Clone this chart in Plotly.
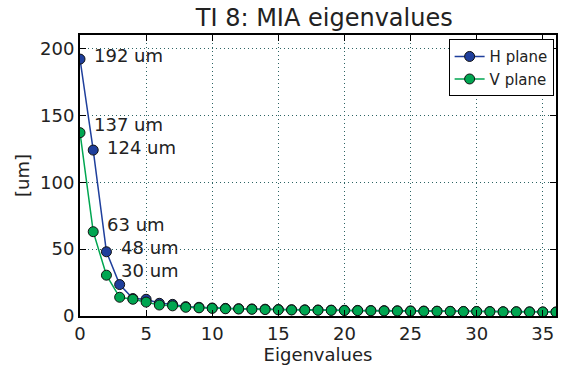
import plotly.graph_objects as go

eig_index = list(range(0, 41))
h_plane = [192, 124, 48, 23.5, 13, 12.5, 9.5, 8.7, 7.0, 6.5, 6.0, 5.7, 5.5, 5.3, 5.1, 4.9,
           4.7, 4.6, 4.5, 4.4, 4.3, 4.2, 4.1, 4.0, 3.9, 3.8, 3.7, 3.6, 3.5, 3.4, 3.4,
           3.3, 3.2, 3.2, 3.1, 3.0, 3.0, 2.9, 2.9, 2.8, 2.8]
v_plane = [137, 63, 30.5, 14, 12.5, 10.4, 8.2, 7.6, 6.5, 6.1, 5.7, 5.4, 5.2, 5.0, 4.8, 4.6,
           4.5, 4.4, 4.3, 4.2, 4.1, 4.0, 3.9, 3.8, 3.7, 3.6, 3.5, 3.5, 3.4, 3.3, 3.3,
           3.2, 3.1, 3.1, 3.0, 3.0, 2.9, 2.9, 2.8, 2.8, 2.7]
x_ticks = [0, 5, 10, 15, 20, 25, 30, 35]
y_ticks = [0, 50, 100, 150, 200]

H_COLOR = "#1f3f9c"
V_COLOR = "#00a651"
FONT = "DejaVu Sans"
TXT = "#222222"

fig = go.Figure()
fig.add_trace(go.Scatter(x=eig_index, y=h_plane, mode="lines+markers", name="H plane",
                         line=dict(color=H_COLOR, width=1.5),
                         marker=dict(color=H_COLOR, size=10, line=dict(color="#111111", width=1))))
fig.add_trace(go.Scatter(x=eig_index, y=v_plane, mode="lines+markers", name="V plane",
                         line=dict(color=V_COLOR, width=1.5),
                         marker=dict(color=V_COLOR, size=10, line=dict(color="#111111", width=1))))

labels = [(0, h_plane, 2.8), (0, v_plane, 5.8), (1, h_plane, 1.6),
          (1, v_plane, 5.2), (2, h_plane, 3.4), (2, v_plane, 3.6)]
for i, series, dy in labels:
    val = series[i]
    fig.add_annotation(x=i + 1, y=val + dy, text=f"{int(round(val))} um", showarrow=False,
                       xanchor="left", yanchor="middle", borderpad=0,
                       font=dict(family=FONT, size=18, color=TXT))

axis_common = dict(showline=True, linecolor="black", linewidth=2, mirror="ticks",
                   ticks="inside", ticklen=6, tickcolor="black", tickwidth=1,
                   showgrid=True, gridcolor="#2d6464", griddash="1px,3px", gridwidth=1,
                   zeroline=False, tickfont=dict(family=FONT, size=18, color=TXT))

fig.update_xaxes(range=[0, 36], tickvals=x_ticks,
                 title=dict(text="Eigenvalues", font=dict(family=FONT, size=18, color=TXT), standoff=2),
                 **axis_common)
fig.update_yaxes(range=[0, 210], tickvals=y_ticks,
                 title=dict(text="[um]", font=dict(family=FONT, size=18, color=TXT), standoff=6),
                 **axis_common)

fig.update_layout(
    width=561, height=367,
    margin=dict(l=80, r=3, t=35, b=51),
    paper_bgcolor="white", plot_bgcolor="white",
    title=dict(text="TI 8: MIA eigenvalues", x=0.578, xanchor="center", y=0.952, yanchor="middle",
               font=dict(family=FONT, size=24, color=TXT)),
    legend=dict(x=0.995, y=0.985, xanchor="right", yanchor="top", bgcolor="white",
                bordercolor="black", borderwidth=1, font=dict(family=FONT, size=15, color=TXT),
                itemwidth=30, tracegroupgap=0),
    showlegend=True,
)

fig.write_html("out.html")
